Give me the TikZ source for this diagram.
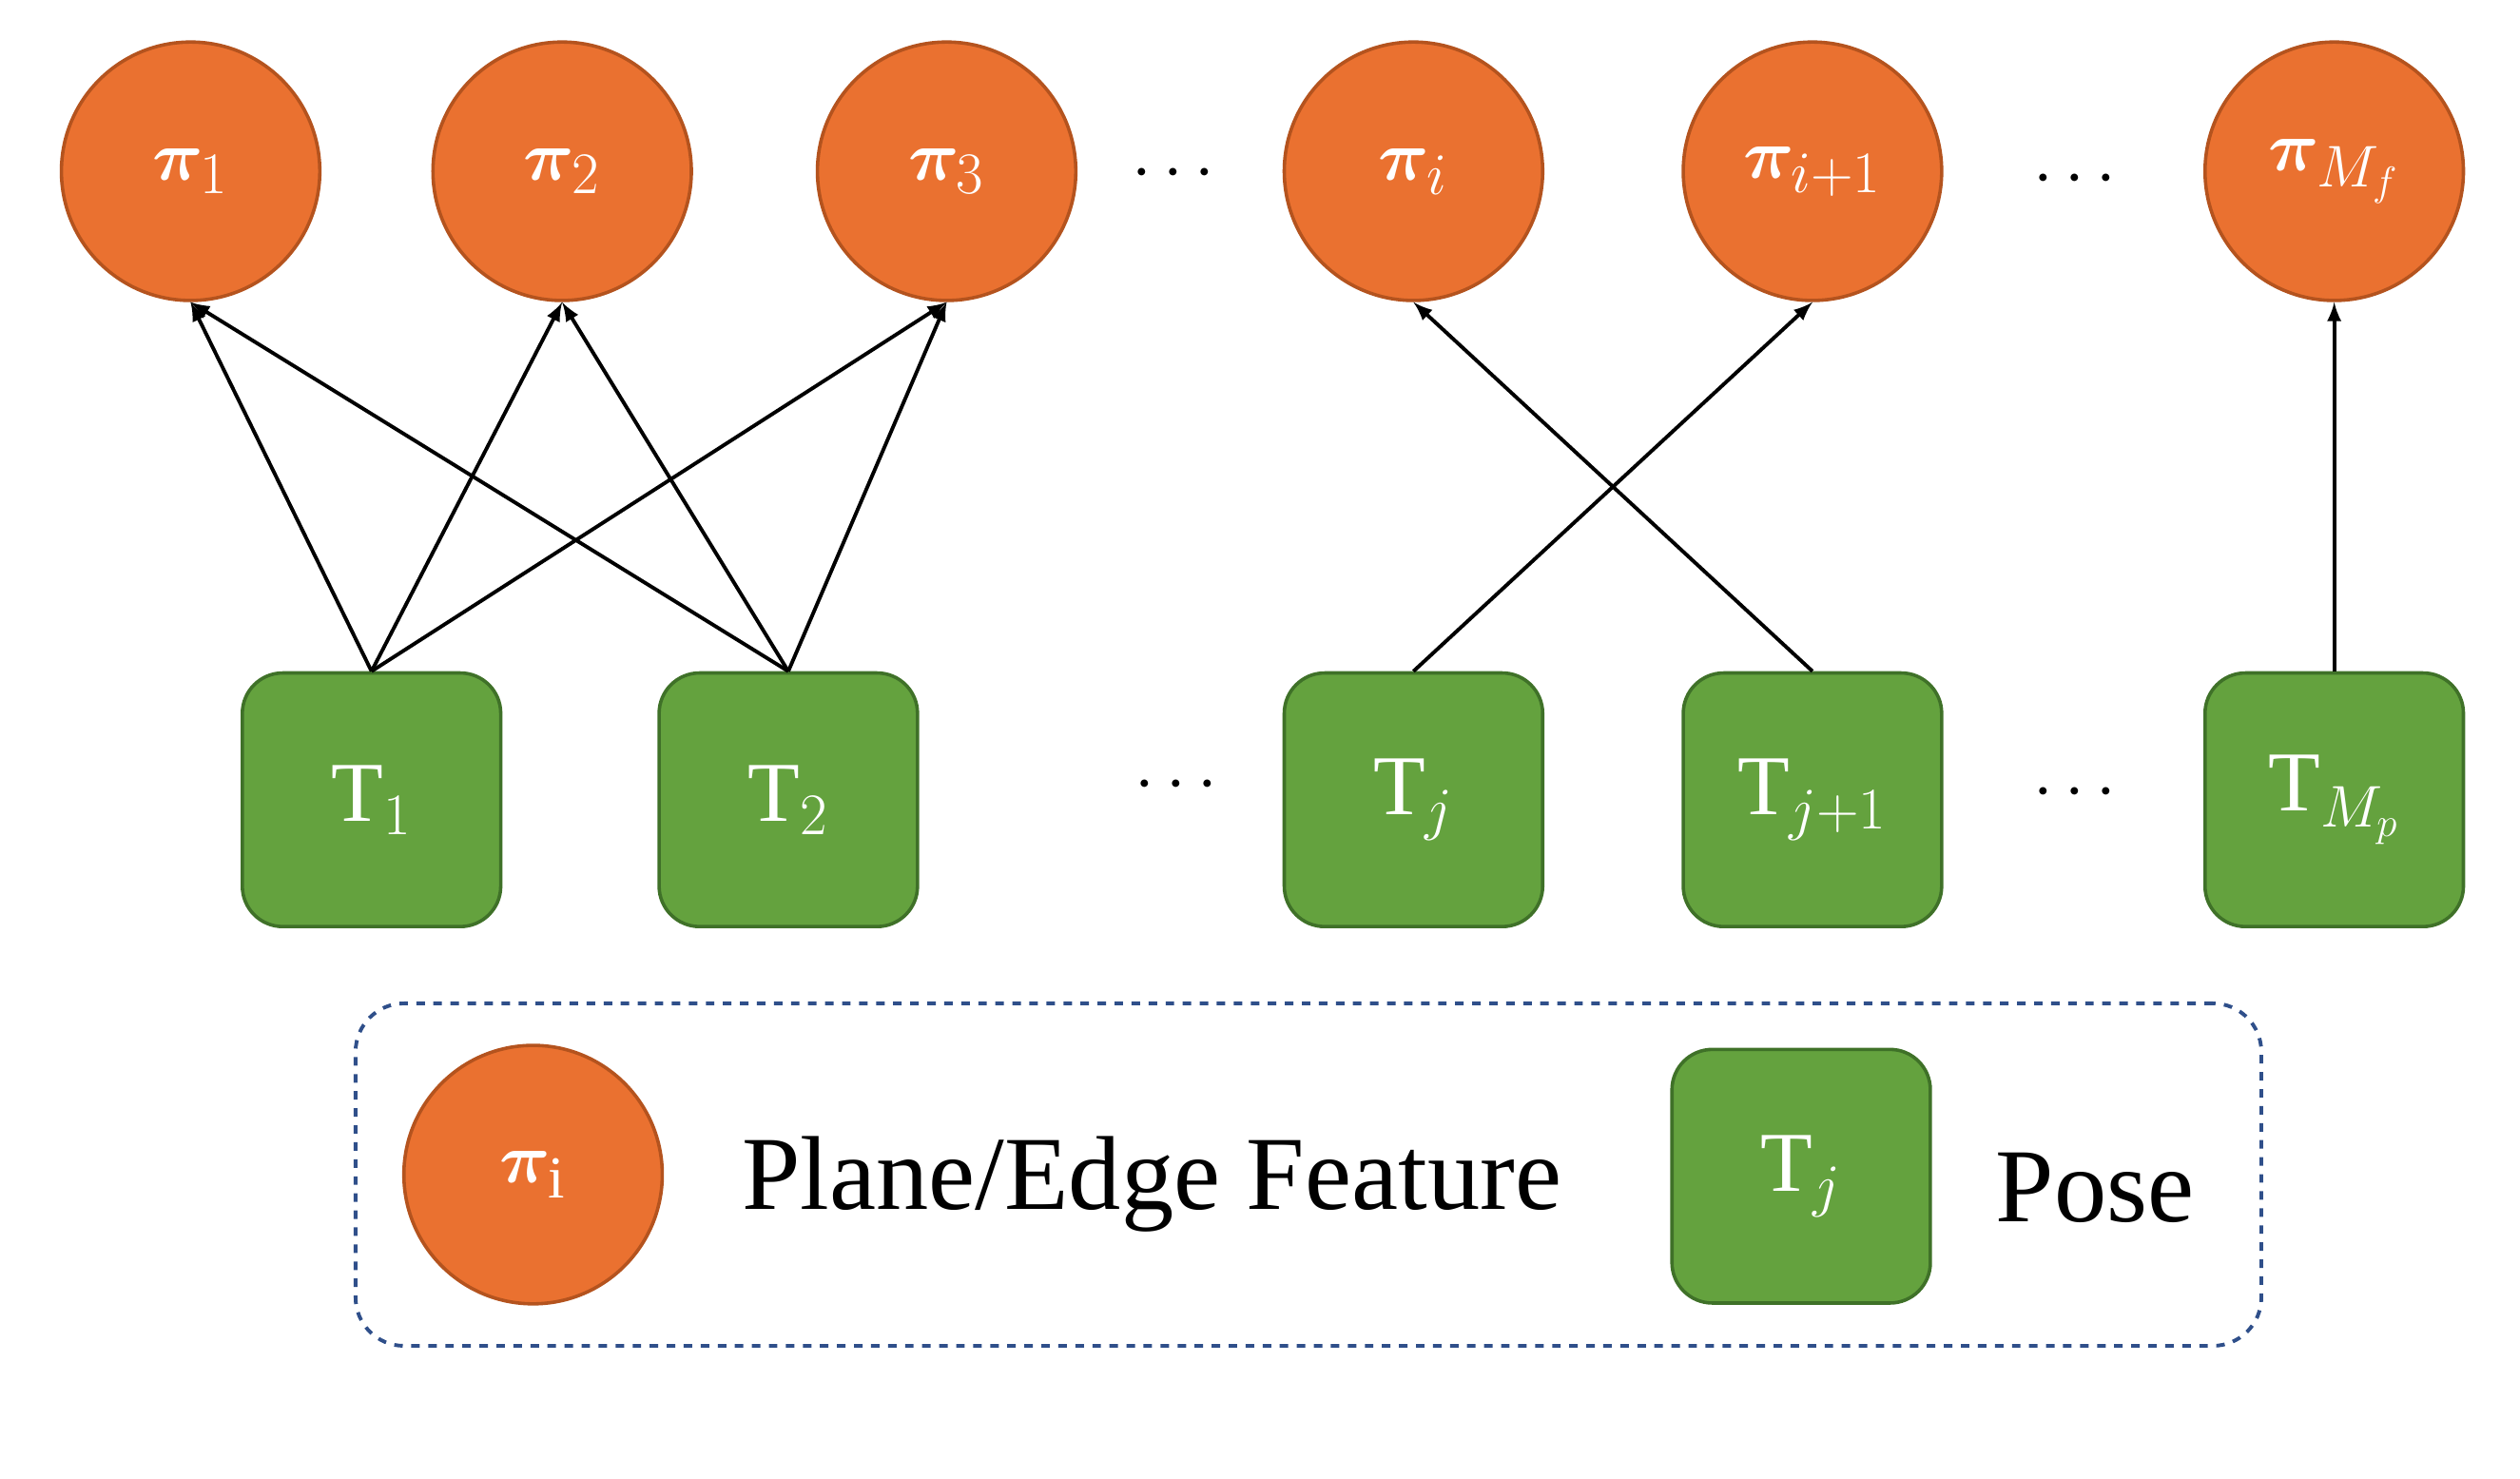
\documentclass[tikz,border=0pt]{standalone}
\usepackage{fontspec}
\usepackage{amsmath,bm}
\setmainfont{Liberation Serif}
\definecolor{orf}{HTML}{EA7130}
\definecolor{ord}{HTML}{B4531E}
\definecolor{grf}{HTML}{64A23E}
\definecolor{grd}{HTML}{3F7128}
\definecolor{dsh}{HTML}{2F4F8A}
\begin{document}
\begin{tikzpicture}[x=0.02cm,y=-0.02cm,
  feat/.style={circle,fill=orf,draw=ord,line width=1.2pt,minimum size=3.2cm,inner sep=0pt,text=white,font=\fontsize{30}{34}\selectfont\bfseries},
  pose/.style={rectangle,rounded corners=0.5cm,fill=grf,draw=grd,line width=1.2pt,minimum width=3.2cm,minimum height=3.14cm,inner sep=0pt,text=white,font=\fontsize{30}{34}\selectfont},
  arr/.style={-latex,line width=1.3pt},
  dots/.style={font=\fontsize{40}{40}\selectfont\bfseries}]
\useasboundingbox (0,0) rectangle (1560,915);
\node[feat] (p1) at (118,106) {$\bm{\pi}_{1}$};
\node[feat] (p2) at (348,106) {$\bm{\pi}_{2}$};
\node[feat] (p3) at (586,106) {$\bm{\pi}_{3}$};
\node[feat] (pi) at (875,106) {$\bm{\pi}_{i}$};
\node[feat] (pi1) at (1122,106) {$\bm{\pi}_{i+1}$};
\node[feat] (pm) at (1445,106) {$\bm{\pi}_{M_f}$};
\node[pose] (t1) at (230,495) {T$_1$};
\node[pose] (t2) at (488,495) {T$_2$};
\node[pose] (tj) at (875,495) {T$_j$};
\node[pose] (tj1) at (1122,495) {T$_{j+1}$};
\node[pose] (tm) at (1445,495) {T$_{M_p}$};
\node[dots] (d1) at (730,108) {$\cdots$};
\node[dots] (d2) at (1288,111) {$\cdots$};
\node[dots] (d3) at (732,486) {$\cdots$};
\node[dots] (d4) at (1288,491) {$\cdots$};
\foreach \s in {t1,t2}{\foreach \t in {p1,p2,p3}{\draw[arr] (\s.north) -- (\t.south);}}
\draw[arr] (tj.north) -- (pi1.south);
\draw[arr] (tj1.north) -- (pi.south);
\draw[arr] (tm.north) -- (pm.south);
\node[draw=dsh,dashed,line width=1.3pt,rounded corners=0.6cm,minimum width=23.6cm,minimum height=4.24cm] (leg) at (810,727) {};
\node[feat] (lc) at (330,727) {$\bm{\pi}_{\mathrm{i}}$};
\node[font=\fontsize{37}{40}\selectfont] (lt1) at (713,733) {Plane/Edge Feature};
\node[pose] (lb) at (1115,728) {T$_j$};
\node[font=\fontsize{37}{40}\selectfont] (lt2) at (1297,735) {Pose};
\end{tikzpicture}
\end{document}
